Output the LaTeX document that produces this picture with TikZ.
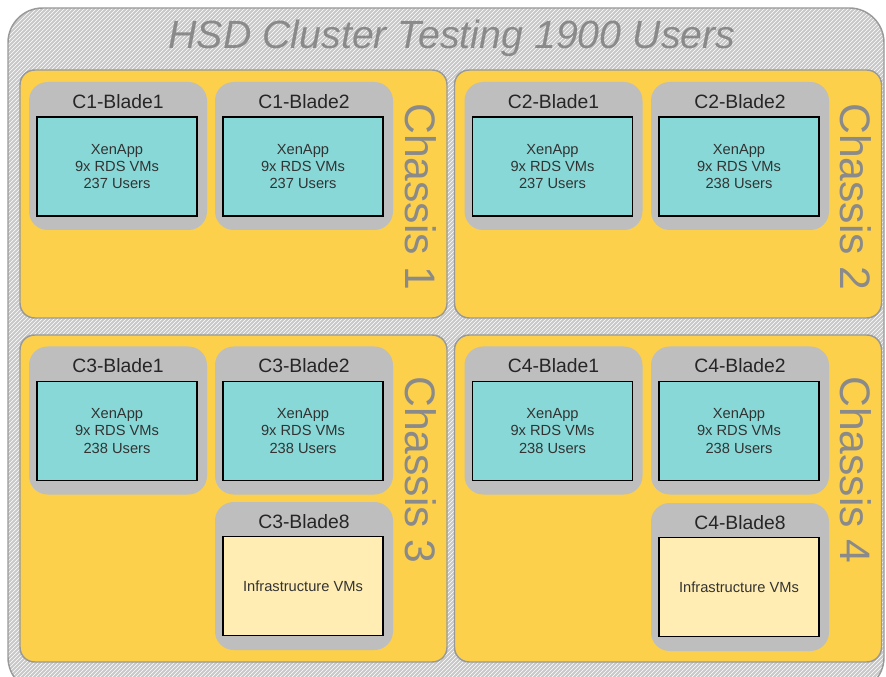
\documentclass[tikz,border=0pt]{standalone}
\usepackage{fontspec}
\setmainfont{Liberation Sans}
\usepackage{xcolor}
\usepackage{tikz}
\usetikzlibrary{positioning,patterns}
\definecolor{chassisyellow}{RGB}{252,208,74}
\definecolor{bladegray}{RGB}{190,190,190}
\definecolor{vmcyan}{RGB}{136,216,216}
\definecolor{infrayellow}{RGB}{255,237,179}
\definecolor{labelgray}{RGB}{138,138,138}
\definecolor{hatchgray}{RGB}{200,200,200}
\tikzset{
  clusterbox/.style={rounded corners=26pt, draw=gray!80, line width=1.1pt, preaction={fill=hatchgray}, pattern=north east lines, pattern color=white},
  chassisbox/.style={rounded corners=11pt, draw=gray!80, fill=chassisyellow, line width=1.1pt, minimum width=320.25pt, inner sep=0pt},
  bladebox/.style={rounded corners=14pt, fill=bladegray, minimum width=133.5pt, minimum height=111pt, inner sep=0pt},
  bladetitle/.style={font=\fontsize{14.5}{16}\selectfont, text=black!85, inner sep=0pt},
  vmbox/.style={draw=black, line width=1.4pt, fill=vmcyan, minimum width=120pt, minimum height=74.25pt, align=center, inner sep=0pt, font=\fontsize{11}{13}\selectfont, text=black!80},
  infrabox/.style={vmbox, fill=infrayellow},
  chassislabel/.style={rotate=-90, font=\fontsize{32}{36}\selectfont, text=labelgray, inner sep=0pt},
}

\begin{document}
\begin{tikzpicture}[x=0.75pt, y=-0.75pt]
  \useasboundingbox (0,0) rectangle (886,677);
  \clip (0,0) rectangle (886,677);
  % cluster frame
  \draw[clusterbox] (8,8) rectangle (884,692);
  \node[font=\itshape\fontsize{29.5}{34}\selectfont, text=labelgray] (title) at (452,38) {HSD Cluster Testing 1900 Users};
  % chassis
  \node[chassisbox, minimum height=186pt] (ch1) at (233.5,194) {};
  \node[chassisbox, minimum height=186pt] (ch2) at (668,194) {};
  \node[chassisbox, minimum height=245.25pt] (ch3) at (233.5,498.5) {};
  \node[chassisbox, minimum height=245.25pt] (ch4) at (668,498.5) {};
  \node[chassislabel] (ch1l) at (421,197) {Chassis 1};
  \node[chassislabel] (ch2l) at (856,197) {Chassis 2};
  \node[chassislabel] (ch3l) at (421,470) {Chassis 3};
  \node[chassislabel] (ch4l) at (856,470) {Chassis 4};
  % chassis 1
  \node[bladebox] (c1b1) at (118,156) {};
  \node[bladetitle, below=9pt of c1b1.north] (c1b1t) {C1-Blade1};
  \node[vmbox] (c1b1vm) at (117,166.5) {XenApp\\9x RDS VMs\\237 Users};
  \node[bladebox] (c1b2) at (304,156) {};
  \node[bladetitle, below=9pt of c1b2.north] (c1b2t) {C1-Blade2};
  \node[vmbox] (c1b2vm) at (303,166.5) {XenApp\\9x RDS VMs\\237 Users};
  % chassis 2
  \node[bladebox] (c2b1) at (553.5,156) {};
  \node[bladetitle, below=9pt of c2b1.north] (c2b1t) {C2-Blade1};
  \node[vmbox] (c2b1vm) at (552.5,166.5) {XenApp\\9x RDS VMs\\237 Users};
  \node[bladebox] (c2b2) at (740,156) {};
  \node[bladetitle, below=9pt of c2b2.north] (c2b2t) {C2-Blade2};
  \node[vmbox] (c2b2vm) at (739,166.5) {XenApp\\9x RDS VMs\\238 Users};
  % chassis 3
  \node[bladebox] (c3b1) at (118,420.5) {};
  \node[bladetitle, below=9pt of c3b1.north] (c3b1t) {C3-Blade1};
  \node[vmbox] (c3b1vm) at (117,431) {XenApp\\9x RDS VMs\\238 Users};
  \node[bladebox] (c3b2) at (304,420.5) {};
  \node[bladetitle, below=9pt of c3b2.north] (c3b2t) {C3-Blade2};
  \node[vmbox] (c3b2vm) at (303,431) {XenApp\\9x RDS VMs\\238 Users};
  \node[bladebox] (c3b8) at (304,576) {};
  \node[bladetitle, below=9pt of c3b8.north] (c3b8t) {C3-Blade8};
  \node[infrabox] (c3b8vm) at (303,586) {Infrastructure VMs};
  % chassis 4
  \node[bladebox] (c4b1) at (553.5,420.5) {};
  \node[bladetitle, below=9pt of c4b1.north] (c4b1t) {C4-Blade1};
  \node[vmbox] (c4b1vm) at (552.5,431) {XenApp\\9x RDS VMs\\238 Users};
  \node[bladebox] (c4b2) at (740,420.5) {};
  \node[bladetitle, below=9pt of c4b2.north] (c4b2t) {C4-Blade2};
  \node[vmbox] (c4b2vm) at (739,431) {XenApp\\9x RDS VMs\\238 Users};
  \node[bladebox] (c4b8) at (740,577) {};
  \node[bladetitle, below=9pt of c4b8.north] (c4b8t) {C4-Blade8};
  \node[infrabox] (c4b8vm) at (739,587) {Infrastructure VMs};
\end{tikzpicture}
\end{document}
